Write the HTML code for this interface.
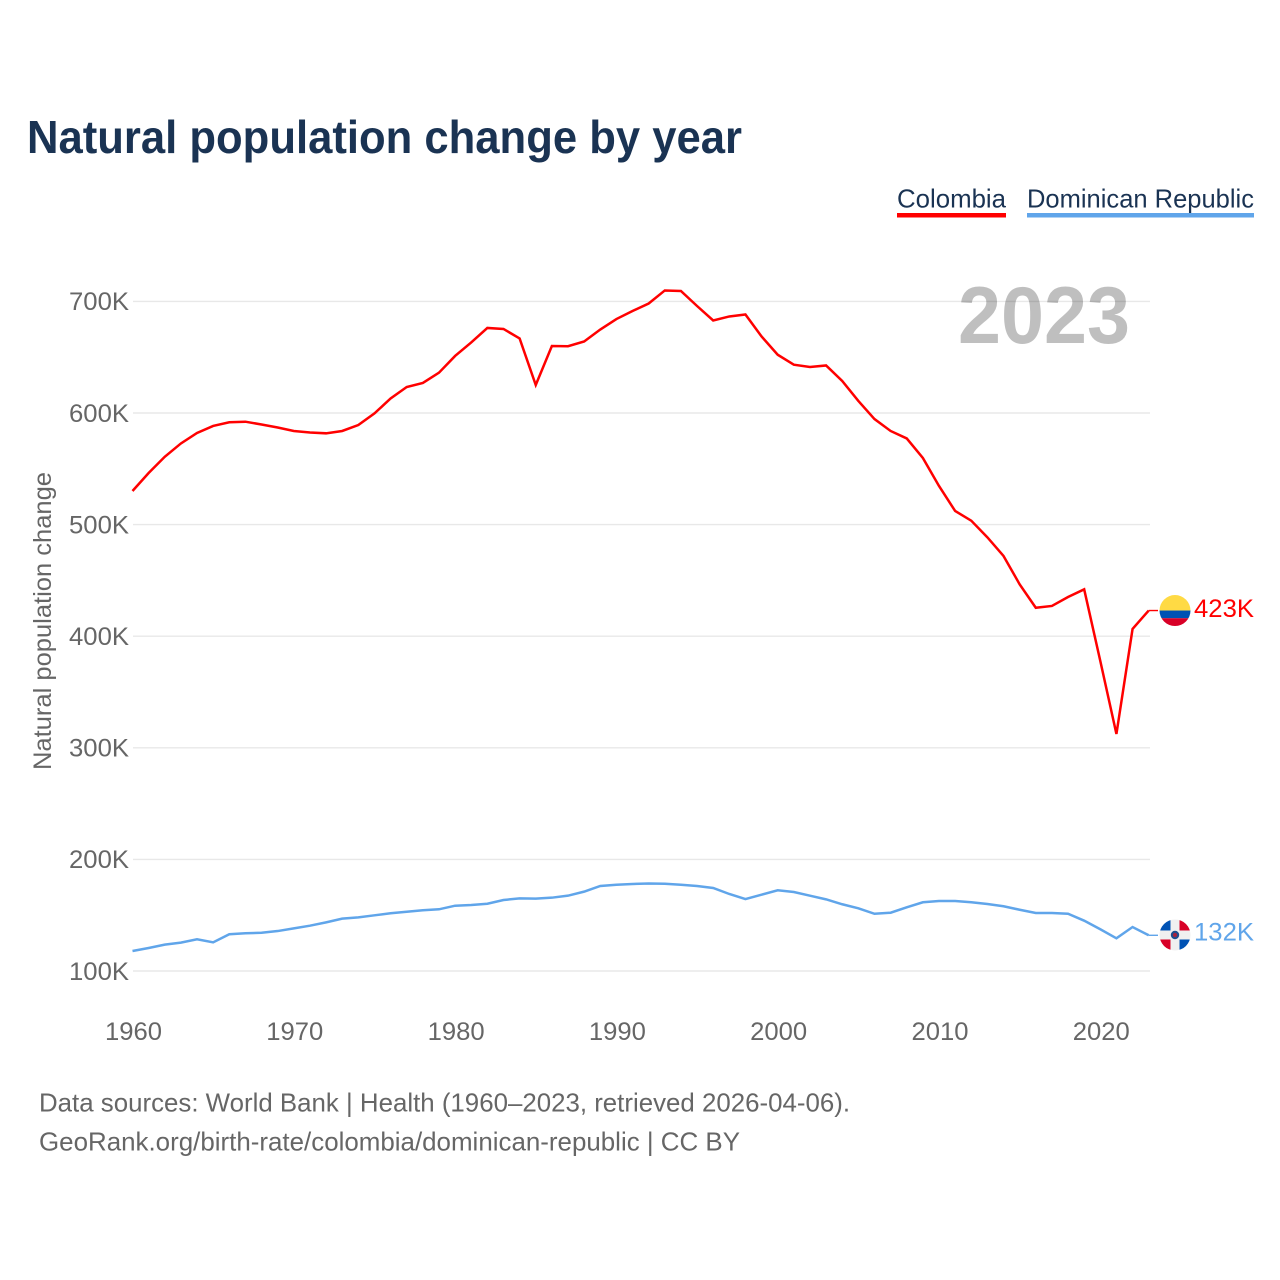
<!DOCTYPE html>
<html lang="en">
<head>
<meta charset="utf-8">
<title>Natural population change by year</title>
<style>
html,body{margin:0;padding:0;background:#fff;}
body{width:1280px;height:1280px;overflow:hidden;}
svg{display:block;font-family:"Liberation Sans",sans-serif;}
</style>
</head>
<body>
<svg id="chart" xmlns="http://www.w3.org/2000/svg" width="1280" height="1280" viewBox="0 0 1280 1280">
  <rect x="0" y="0" width="1280" height="1280" fill="#ffffff"/>
  <text x="27" y="153" font-size="46" font-weight="700" fill="#1a3353" textLength="715" lengthAdjust="spacingAndGlyphs">Natural population change by year</text>

  <g>
    <text x="897" y="207.5" font-size="26" fill="#1a3353" textLength="109" lengthAdjust="spacingAndGlyphs">Colombia</text>
    <rect x="897" y="213" width="109" height="4.5" fill="#ff0000"/>
  </g>
  <g>
    <text x="1027" y="207.5" font-size="26" fill="#1a3353" textLength="227" lengthAdjust="spacingAndGlyphs">Dominican Republic</text>
    <rect x="1027" y="213" width="227" height="4.5" fill="#60a5ea"/>
  </g>

  <g id="grid"></g>
  <g id="yticks"></g>
  <g id="xticks"></g>

  <text transform="translate(51,621) rotate(-90)" text-anchor="middle" font-size="25" fill="#666666" textLength="298" lengthAdjust="spacingAndGlyphs">Natural population change</text>

  <text x="958" y="343" font-size="81" font-weight="700" fill="#000000" fill-opacity="0.25" textLength="172" lengthAdjust="spacingAndGlyphs">2023</text>

  <g id="series"></g>

  <defs>
    <clipPath id="flag-clip-co"><circle id="clip-co" cx="1175" cy="610" r="15.5"/></clipPath>
    <clipPath id="flag-clip-do"><circle id="clip-do" cx="1175" cy="935" r="15.5"/></clipPath>
  </defs>
  <g id="flags"></g>

  <text x="39" y="1111.5" font-size="26" fill="#666666" textLength="811" lengthAdjust="spacingAndGlyphs">Data sources: World Bank | Health (1960–2023, retrieved 2026-04-06).</text>
  <text x="39" y="1150.5" font-size="26" fill="#666666" textLength="701" lengthAdjust="spacingAndGlyphs">GeoRank.org/birth-rate/colombia/dominican-republic | CC BY</text>
</svg>
<script>
const startYear = 1960;
const xTickYears = [1960, 1970, 1980, 1990, 2000, 2010, 2020];
const yTickValues = [100, 200, 300, 400, 500, 600, 700];
const colombiaValues = [
  530.1, 546.2, 560.8, 572.7, 582.1, 588.4, 591.7, 592.2, 589.7, 587.0,
  583.9, 582.5, 581.8, 583.9, 589.2, 599.6, 613.0, 623.3, 626.9, 636.1,
  651.1, 663.2, 676.2, 675.3, 666.8, 625.1, 660.0, 659.8, 664.1, 674.8,
  684.2, 691.4, 698.1, 709.8, 709.3, 695.9, 682.9, 686.5, 688.3, 668.6,
  652.2, 643.3, 641.2, 642.6, 628.7, 610.8, 594.6, 583.9, 577.2, 559.7,
  534.6, 512.2, 503.5, 488.6, 471.9, 446.5, 425.5, 427.1, 435.1, 442.0,
  377.8, 312.4, 406.5, 423.0
];
const dominicanValues = [
  117.9, 120.6, 123.6, 125.4, 128.4, 125.7, 132.9, 133.8, 134.3, 135.8,
  138.2, 140.6, 143.6, 146.9, 148.1, 149.9, 151.7, 153.1, 154.4, 155.3,
  158.5, 159.1, 160.3, 163.6, 165.1, 164.8, 165.7, 167.5, 171.1, 176.2,
  177.3, 178.0, 178.4, 178.2, 177.3, 176.2, 174.4, 169.0, 164.5, 168.4,
  172.3, 170.8, 167.5, 164.2, 159.8, 156.2, 151.3, 152.2, 157.1, 161.6,
  162.7, 162.7, 161.6, 160.0, 158.0, 154.9, 152.0, 152.0, 151.3, 145.1,
  137.4, 129.3, 139.4, 132.0
];

const SVG_NS = 'http://www.w3.org/2000/svg';
function xScale(year) { return 132.5 + (year - startYear) * 16.13; }
function yScale(value) { return 971 - (value - 100) * 1.116; }
function make(tag, attrs, parent) {
  const el = document.createElementNS(SVG_NS, tag);
  for (const k in attrs) el.setAttribute(k, attrs[k]);
  parent.appendChild(el);
  return el;
}

const gridG = document.getElementById('grid');
const yG = document.getElementById('yticks');
const xG = document.getElementById('xticks');
const seriesG = document.getElementById('series');
const flagsG = document.getElementById('flags');

yTickValues.forEach(function (v) {
  const line = make('line', {x1: 133, x2: 1150, y1: yScale(v), y2: yScale(v), stroke: '#e8e8e8', 'stroke-width': 1.4}, gridG);
  
  
  const t = make('text', {x: 129, y: yScale(v) + 8.8, 'text-anchor': 'end', 'font-size': 25, fill: '#666666', textLength: 60, lengthAdjust: 'spacingAndGlyphs'}, yG);
  t.textContent = v + 'K';
  
  
});

xTickYears.forEach(function (yr) {
  const t = make('text', {x: xScale(yr) + 1, y: 1040, 'text-anchor': 'middle', 'font-size': 25, fill: '#666666', textLength: 57, lengthAdjust: 'spacingAndGlyphs'}, xG);
  t.textContent = yr;
  
  
});

function pathFor(values) {
  return values.map(function (v, i) {
    return (i ? 'L' : 'M') + xScale(startYear + i).toFixed(2) + ' ' + yScale(v).toFixed(2);
  }).join(' ');
}

const colombiaLine = make('path', {d: pathFor(colombiaValues), fill: 'none', stroke: '#ff0000', 'stroke-width': 2.5, 'stroke-linejoin': 'miter'}, seriesG);



const dominicanLine = make('path', {d: pathFor(dominicanValues), fill: 'none', stroke: '#60a5ea', 'stroke-width': 2.5, 'stroke-linejoin': 'miter'}, seriesG);



const lastYear = startYear + colombiaValues.length - 1;
const coY = yScale(colombiaValues[colombiaValues.length - 1]);
const doY = yScale(dominicanValues[dominicanValues.length - 1]);

const coConn = make('line', {x1: xScale(lastYear), x2: 1158, y1: coY, y2: coY, stroke: '#ff0000', 'stroke-width': 1.4}, seriesG);


const doConn = make('line', {x1: xScale(lastYear), x2: 1158, y1: doY, y2: doY, stroke: '#60a5ea', 'stroke-width': 1.4}, seriesG);



/* Colombia flag */
const cx = 1175;
document.getElementById('clip-co').setAttribute('cy', coY);
const coFlag = make('g', {'clip-path': 'url(#flag-clip-co)'}, flagsG);


make('rect', {x: cx - 16, y: coY - 16, width: 32, height: 16, fill: '#ffda44'}, coFlag);
make('rect', {x: cx - 16, y: coY, width: 32, height: 7.7, fill: '#0052b4'}, coFlag);
make('rect', {x: cx - 16, y: coY + 7.7, width: 32, height: 9, fill: '#d80027'}, coFlag);

/* Dominican Republic flag */
document.getElementById('clip-do').setAttribute('cy', doY - 0.3);
const doFlag = make('g', {'clip-path': 'url(#flag-clip-do)'}, flagsG);


make('rect', {x: cx - 16, y: doY - 16.3, width: 32, height: 32, fill: '#f0f0f0'}, doFlag);
make('rect', {x: cx - 16, y: doY - 16.3, width: 11.5, height: 11.5, fill: '#0052b4'}, doFlag);
make('rect', {x: cx + 4.5, y: doY - 16.3, width: 11.5, height: 11.5, fill: '#d80027'}, doFlag);
make('rect', {x: cx - 16, y: doY + 4.2, width: 11.5, height: 12, fill: '#d80027'}, doFlag);
make('rect', {x: cx + 4.5, y: doY + 4.2, width: 11.5, height: 12, fill: '#0052b4'}, doFlag);
make('circle', {cx: cx, cy: doY - 0.3, r: 4.2, fill: '#1f4f8f'}, doFlag);
make('circle', {cx: cx, cy: doY - 0.3, r: 2.1, fill: '#a8243f'}, doFlag);

/* End labels */
function endLabel(values, y, color) {
  const t = make('text', {x: 1194, y: y + 6.5, 'font-size': 25, fill: color, textLength: 60, lengthAdjust: 'spacingAndGlyphs'}, seriesG);
  t.textContent = Math.round(values[values.length - 1]) + 'K';
  return t;
}
const coLabel = endLabel(colombiaValues, coY, '#ff0000');


const doLabel = endLabel(dominicanValues, doY - 1.5, '#60a5ea');


</script>
</body>
</html>
